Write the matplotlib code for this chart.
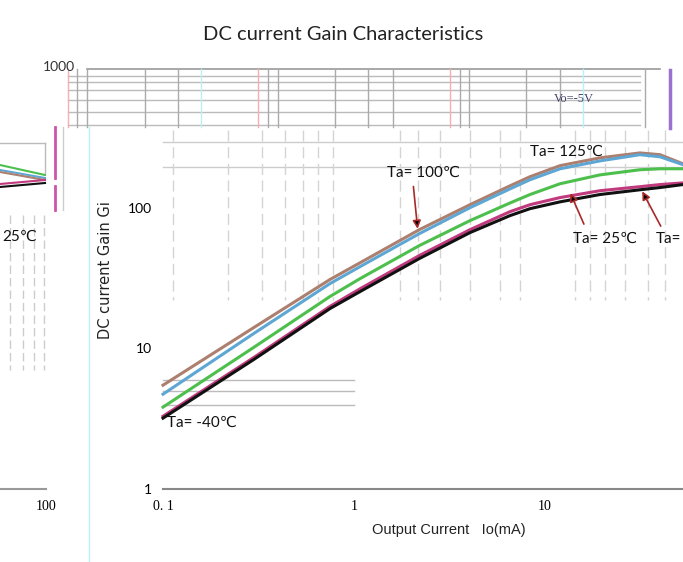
import matplotlib
matplotlib.use("Agg")
import matplotlib.pyplot as plt
import numpy as np

# --- data ---
current_ma = [0.1, 0.3, 0.75, 1.08, 2.2, 4.05, 6.56, 8.35, 12.0, 19.4, 31.4, 40.0, 52.8]
gain_125 = [5.47, 14.1, 30.9, 40.7, 69.8, 105, 143, 166, 199, 226, 245, 238, 205]
gain_100 = [4.72, 12.8, 28.9, 38.2, 65.4, 100, 136, 158, 189, 215, 238, 230, 202]
gain_75 = [3.82, 10.2, 23.4, 31.4, 53.8, 80.9, 108, 124, 148, 171, 186, 189, 189]
gain_25 = [3.29, 8.64, 19.9, 26.6, 45.7, 69.8, 93.7, 105, 118, 132, 141, 146, 150]
gain_m40 = [3.19, 8.36, 19.2, 25.4, 43.5, 66.5, 87.8, 98.4, 110, 124, 134, 139, 146]

series = [gain_125, gain_100, gain_75, gain_25, gain_m40]
colors = ['#ac7f6e', '#5ea6d4', '#4cbf4c', '#c23a7e', '#111111']

y_ticks = [1, 10, 100]
y_ticklabels = ['1', '10', '100']
x_ticks = [0.1, 1, 10]
x_ticklabels = ['0. 1', '1', '10']

W, H = 683, 562
fig = plt.figure(figsize=(W / 100, H / 100), dpi=100)

# background overlay in pixel units, for the scan-like debris of the sheet
bg = fig.add_axes([0, 0, 1, 1], zorder=0)
bg.set_xlim(0, W)
bg.set_ylim(H, 0)
bg.axis('off')

# top table block
top_rows = [76, 82, 90, 100, 112, 125]
top_cols = [77, 87, 145, 178, 268, 278, 335, 368, 393, 460, 469, 526, 560, 645]
bg.plot([87, 660], [69, 69], color='#999999', lw=1.2)
for r in top_rows:
    bg.plot([68, 640], [r, r], color='#bbbbbb', lw=1)
for c in top_cols:
    bg.plot([c, c], [69, 127], color='#aaaaaa', lw=1)
for c in [68, 258, 450]:
    bg.plot([c, c], [69, 127], color='#f4b0b0', lw=1)
for c in [201, 583]:
    bg.plot([c, c], [69, 127], color='#b8f0f4', lw=1)
bg.plot([670, 670], [70, 128], color='#9a70d0', lw=2.5)

# cyan and magenta verticals on the left
bg.plot([89, 89], [127, 562], color='#b8f4f8', lw=1)
bg.plot([55, 55], [127, 178], color='#cc55aa', lw=2)
bg.plot([55, 55], [186, 210], color='#cc55aa', lw=2)
bg.plot([63, 63], [127, 210], color='#cccccc', lw=1)

# left fragment of another chart
bg.plot([0, 45], [143, 143], color='#bbbbbb', lw=1)
bg.plot([45, 45], [143, 173], color='#bbbbbb', lw=1)
frag_start = [165, 170, 172, 184, 187]
frag_end = [175, 178, 180, 180, 183]
for c, a, b in zip(['#4cbf4c', '#5ea6d4', '#ac7f6e', '#c23a7e', '#111111'], frag_start, frag_end):
    bg.plot([0, 45], [a, b], color=c, lw=1.5)
for c in [10, 23, 34, 44]:
    bg.plot([c, c], [215, 370], color='#cccccc', lw=1, ls=(0, (6, 3)))
bg.plot([0, 46], [489, 489], color='#999999', lw=1.5)

# gray strokes in the main plot area
for r in [142, 167]:
    bg.plot([163, 683], [r, r], color='#cccccc', lw=1)
for r in [380, 391, 405]:
    bg.plot([163, 354], [r, r], color='#bbbbbb', lw=1)
dash_cols = [173, 228, 262, 285, 303, 318, 333, 400, 418, 440, 470, 500,
             520, 575, 590, 605, 625, 648, 665]
for c in dash_cols:
    bg.plot([c, c], [130, 300], color='#d4d4d4', lw=1, ls=(0, (8, 4)))

# --- main chart ---
left = 163 / W
width = 573 / W
bottom = (H - 489) / H
height = 422 / H
ax = fig.add_axes([left, bottom, width, height], zorder=2)
ax.patch.set_alpha(0)
ax.set_xscale('log')
ax.set_yscale('log')
ax.set_xlim(0.1, 100)
ax.set_ylim(1, 1000)
for name in ['top', 'right', 'left']:
    ax.spines[name].set_visible(False)
ax.spines['bottom'].set_color('#888888')
ax.spines['bottom'].set_linewidth(1.5)
ax.tick_params(length=0, pad=8)
ax.minorticks_off()
ax.set_yticks(y_ticks)
ax.set_yticklabels(y_ticklabels, fontsize=10, family=['Lato', 'DejaVu Sans'])
ax.set_xticks(x_ticks)
ax.set_xticklabels(x_ticklabels, fontsize=10, family='Liberation Serif')

for g, c in zip(series, colors):
    ax.plot(current_ma, g, color=c, lw=2.2, solid_joinstyle='round', clip_on=False)

lab = dict(fontsize=11, family=['Lato', 'DejaVu Sans'], color='#111111')
arr = dict(arrowstyle='-|>', ec='#a82828', fc='black', lw=1.2, mutation_scale=12)
ax.text(8.34, 250, 'Ta= 125\u2103', va='center', ha='left', **lab)
ax.text(1.49, 177, 'Ta= 100\u2103', va='center', ha='left', **lab)
ax.annotate('', xy=(2.16, 67.6), xytext=(2.04, 148), arrowprops=arr)
ax.text(14.0, 60.3, 'Ta= 25\u2103', va='center', ha='left', **lab)
ax.annotate('', xy=(13.4, 132), xytext=(16.2, 73.3), arrowprops=arr)
ax.text(38.1, 60.3, 'Ta=', va='center', ha='left', **lab)
ax.annotate('', xy=(31.8, 136), xytext=(41.0, 71), arrowprops=arr)
ax.text(0.105, 2.94, 'Ta= -40\u2103', va='center', ha='left', **lab)

fig.text(343 / W, 1 - 34 / H, 'DC current Gain Characteristics', ha='center',
         va='center', fontsize=14.5, family=['Lato', 'DejaVu Sans'], color='#222222')
fig.text(106 / W, 1 - 270 / H, 'DC current Gain Gi', rotation=90, ha='center',
         va='center', fontsize=10.5, family='DejaVu Sans', color='#222222')
fig.text(449 / W, 1 - 530 / H, 'Output Current   Io(mA)', ha='center', va='center',
         fontsize=10.5, family='Liberation Sans', color='#222222')
fig.text(75 / W, 1 - 67 / H, '1000', ha='right', va='center', fontsize=10,
         family=['Lato', 'DejaVu Sans'], color='#333333')
fig.text(2 / W, 1 - 237 / H, '25\u2103', ha='left', va='center', **lab)
fig.text(46 / W, 1 - 507 / H, '100', ha='center', va='center', fontsize=10,
         family='Liberation Serif')
fig.text(574 / W, 1 - 99 / H, 'Vo=-5V', ha='center', va='center', fontsize=9,
         family='Liberation Serif', color='#44446a')

fig.savefig('out.png', dpi=100)
